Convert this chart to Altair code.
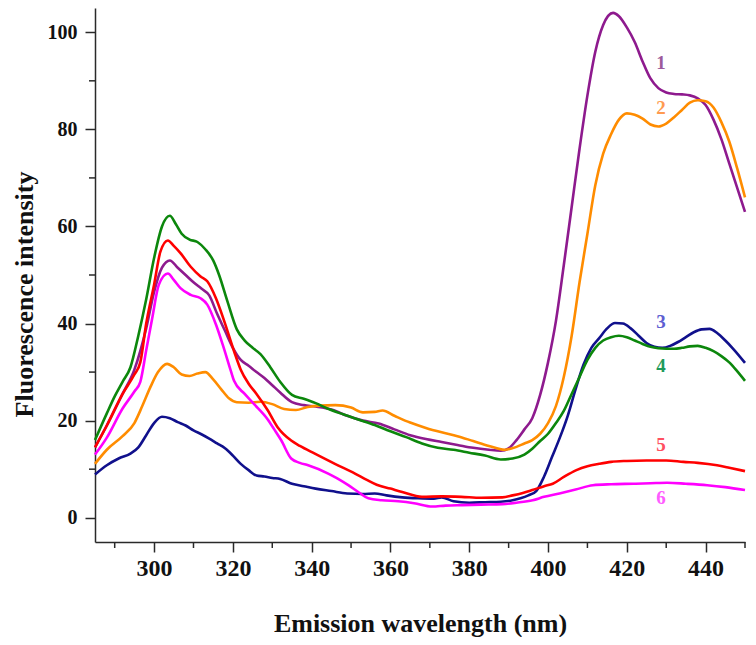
import altair as alt
import pandas as pd

# ---- data ----
x1 = [285, 288, 292, 295, 298, 300, 302, 304, 306, 308, 310, 312, 314, 316, 318, 320, 322, 324, 326, 328, 330, 332, 335, 338, 341, 345, 349, 353, 357, 361, 365, 369, 373, 377, 381, 385, 388, 390, 392, 394, 396, 398, 400, 402, 404, 406, 408, 410, 412, 414, 416.5, 418, 420, 422, 424, 426, 428, 430, 432, 434, 436, 438, 440, 442, 444, 446, 448, 450]
y1 = [14.5, 19, 25.5, 30.5, 39, 46.5, 51.5, 53, 51.5, 50, 48.5, 47.2, 45.8, 42, 38.5, 35, 32.5, 31.3, 30, 28.8, 27.3, 25.8, 23.8, 23.2, 22.9, 22.3, 21, 20, 19.4, 18.2, 17, 16.2, 15.6, 15, 14.4, 14, 13.8, 14.3, 16, 18.2, 20.5, 25.3, 32, 40.5, 52, 64, 76, 87, 96, 101.5, 104, 103.3, 101, 98, 94, 90.5, 88.5, 87.6, 87.3, 87.2, 87, 86.4, 85, 82, 78, 73, 68, 63]

x2 = [285, 288, 292, 295, 297, 299, 301, 303.3, 305, 307, 309, 311, 313, 315, 317, 319, 321, 324, 327, 330, 333, 336, 339, 342, 346, 350, 353, 356, 358, 361, 365, 369, 373, 377, 381, 385, 389, 392, 394, 396, 398, 400, 402, 404, 406, 408, 410, 412, 414, 416, 418, 420, 422, 424, 426, 428, 430, 432, 434, 436, 438, 440, 442, 444, 446, 448, 450]
y2 = [11.1, 14, 16.8, 19.5, 23, 26.8, 30, 31.7, 31, 29.5, 29.2, 29.7, 30, 28.5, 26.5, 24.6, 23.8, 23.7, 23.9, 23.4, 22.4, 22.2, 22.8, 23.1, 23.2, 22.7, 21.7, 21.8, 22.1, 21, 19.6, 18.5, 17.6, 16.8, 15.8, 14.8, 14, 14.6, 15.3, 16, 17.3, 19.5, 23, 29, 37.5, 48.5, 58.5, 68.5, 75, 79, 82, 83.3, 83, 82.2, 81, 80.6, 81.2, 82.5, 84, 85.5, 86, 85.8, 84.5, 81.5, 77.5, 72, 66]

x3 = [285, 288, 291, 294, 296, 298, 300, 302, 304, 306, 308, 310, 312, 314, 316, 318, 320, 322, 324, 326, 328, 330, 332, 335, 338, 341, 345, 349, 353, 356, 359, 363, 367, 371, 373, 376, 380, 384, 388, 391, 393, 395, 397, 399, 401, 403, 405, 407, 409, 411, 413, 415, 417, 419, 421, 423, 425, 427, 429, 431, 433, 435, 437, 439, 441, 443, 445, 447, 450]
y3 = [8.9, 10.8, 12.2, 13.2, 14.5, 17, 19.5, 20.8, 20.5, 19.7, 19, 18, 17.2, 16.3, 15.3, 14.3, 12.8, 11.1, 9.8, 8.7, 8.5, 8.2, 8, 7, 6.5, 6, 5.5, 5, 4.9, 5, 4.6, 4.2, 4, 3.9, 4.2, 3.4, 3.1, 3.2, 3.3, 3.6, 4, 4.6, 5.5, 8.5, 12.5, 16.5, 21, 26.5, 31.5, 35, 37, 39, 40.1, 40, 39, 37.5, 36, 35.2, 35, 35.4, 36.2, 37.2, 38.2, 38.8, 38.9, 38, 36.5, 34.8, 31.9]

x4 = [285, 288, 290, 292, 294, 296, 298, 300, 302, 304, 305.5, 307, 309, 311, 313, 315, 316.5, 318.6, 321, 323, 325, 327, 329.5, 332, 335, 338, 341, 344, 348, 352, 356, 360, 364, 368, 372, 376, 380, 384, 388, 391, 394, 396, 398, 400, 402, 404, 406, 408, 410, 412, 414, 416, 418, 420, 422, 424, 426, 428, 430, 432, 434, 436, 438, 440, 442, 444, 446, 448, 450]
y4 = [16, 21.5, 25, 28, 31, 37.5, 45, 53.5, 60, 62.2, 60.5, 58.5, 57.3, 56.8, 55.3, 53, 50, 44.6, 38.8, 36.5, 35, 33.7, 31, 28, 25.3, 24.5, 23.6, 22.5, 21.3, 20.2, 19.1, 17.8, 16.6, 15.3, 14.4, 14, 13.4, 12.8, 12, 12.2, 13, 14.2, 15.8, 17.3, 19.5, 22, 25.5, 29, 32.5, 35, 36.5, 37.2, 37.5, 37.2, 36.5, 35.8, 35.2, 34.9, 34.8, 34.8, 35, 35.3, 35.4, 35, 34.3, 33.3, 32, 30.2, 28.2]

x5 = [285, 288, 292, 295, 296.5, 298, 300, 301.6, 303.5, 305, 306.7, 309.3, 311.8, 313.5, 315.7, 317.8, 320.3, 322, 324, 326, 328.8, 331.4, 334.8, 337, 340.8, 345.9, 351, 354, 356.5, 360, 363, 368, 373, 378, 383, 388.4, 391, 393.6, 396, 399, 401.2, 404, 407.2, 410, 413, 416, 420, 425, 430, 434.4, 438, 442.9, 446, 450]
y5 = [14.5, 19, 25.5, 29.5, 32, 40, 48, 54.8, 57.1, 56, 54.5, 51.7, 49.7, 48.7, 45.2, 40.5, 34.3, 30.5, 27.6, 25.5, 22.2, 18.6, 15.9, 14.8, 13.2, 11.1, 9.1, 7.8, 6.8, 6, 5.3, 4.3, 4.4, 4.3, 4.1, 4.2, 4.6, 5.1, 5.7, 6.5, 7, 8.4, 9.8, 10.6, 11.1, 11.5, 11.7, 11.8, 11.8, 11.5, 11.3, 10.8, 10.3, 9.6]

x6 = [285, 288, 292, 295, 296.5, 298, 299.5, 301.2, 303.5, 305, 306.7, 309.3, 311.8, 313.5, 315.7, 317.4, 319.5, 320.3, 323, 325.4, 328.8, 330.5, 332.3, 334.8, 337, 339.1, 344.2, 346.5, 349.3, 352, 354.4, 357.8, 362, 366, 370.6, 374, 378.2, 383, 388.4, 392, 396.1, 399, 402.9, 407, 411.4, 416, 421.7, 426, 430.2, 435, 440.4, 445, 450]
y6 = [13, 16.5, 22.5, 26, 28, 34.5, 41, 48, 50.3, 49, 47.3, 45.9, 45.2, 43.9, 39.8, 35.7, 30.2, 28.2, 25.5, 23.4, 20.3, 18.2, 15.9, 12.2, 11.3, 10.8, 9.1, 8.1, 6.7, 5.2, 4, 3.6, 3.4, 3, 2.3, 2.5, 2.6, 2.7, 2.8, 3.1, 3.6, 4.3, 5, 5.8, 6.7, 6.9, 7, 7.1, 7.2, 7, 6.7, 6.3, 5.7]

series_names = ["1", "2", "3", "4", "5", "6"]
line_colors = ["#8E1A8E", "#FF8C00", "#10108C", "#0C870C", "#FF0000", "#FF00FF"]

label_text = ["1", "2", "3", "4", "5", "6"]
label_x = [428.7, 428.7, 428.7, 428.7, 428.7, 428.7]
label_y = [93.7, 84.5, 40.3, 31.3, 14.9, 4.0]
label_colors = ["#9C5A9C", "#FF9A50", "#5E5ED2", "#1E9A5A", "#FF5060", "#FF5CFF"]

x_major = [300, 320, 340, 360, 380, 400, 420, 440]
x_minor = [290, 310, 330, 350, 370, 390, 410, 430, 450]
y_major = [0, 20, 40, 60, 80, 100]
y_minor = [10, 30, 50, 70, 90]

X_DOMAIN = [285, 450]
Y_DOMAIN = [-5, 105]
W, H = 650, 534
FONT = "Liberation Serif"
AXC = "#2a2a2a"

# ---- build tables ----
xs = [x1, x2, x3, x4, x5, x6]
ys = [y1, y2, y3, y4, y5, y6]
rows = []
for name, xv, yv in zip(series_names, xs, ys):
    for a, b in zip(xv, yv):
        rows.append({"series": name, "wl": a, "val": b})
df = pd.DataFrame(rows)
labels_df = pd.DataFrame({"t": label_text, "wl": label_x, "val": label_y, "c": label_colors})
xminor_df = pd.DataFrame({"wl": x_minor})
yminor_df = pd.DataFrame({"val": y_minor})

xscale = alt.Scale(domain=X_DOMAIN, nice=False, zero=False)
yscale = alt.Scale(domain=Y_DOMAIN, nice=False, zero=False)

x_axis = alt.Axis(
    values=x_major, title="Emission wavelength (nm)", grid=False,
    tickSize=10, tickWidth=1.5, tickColor=AXC, domainColor=AXC, domainWidth=1.5,
    labelFont=FONT, labelFontWeight="bold", labelFontSize=24, labelColor="#111",
    labelPadding=4, titleFont=FONT, titleFontWeight="bold", titleFontSize=26,
    titleColor="#111", titleBaseline="alphabetic", titleY=89, titleX=W / 2)
y_axis = alt.Axis(
    values=y_major, title="Fluorescence intensity", grid=False,
    tickSize=10, tickWidth=1.5, tickColor=AXC, domainColor=AXC, domainWidth=1.5,
    labelFont=FONT, labelFontWeight="bold", labelFontSize=20, labelColor="#111",
    labelPadding=8, titleFont=FONT, titleFontWeight="bold", titleFontSize=26,
    titleColor="#111", titleBaseline="alphabetic", titleX=-63, titleY=286,
    titleAngle=270)

X = alt.X("wl:Q", scale=xscale, axis=x_axis)
Y = alt.Y("val:Q", scale=yscale, axis=y_axis)

lines = alt.Chart(df).mark_line(strokeWidth=2.6, interpolate="monotone").encode(
    x=X, y=Y,
    color=alt.Color("series:N", scale=alt.Scale(domain=series_names, range=line_colors), legend=None),
    order=alt.Order("wl:Q"),
)

texts = alt.Chart(labels_df).mark_text(font=FONT, fontWeight="bold", fontSize=19,
                                       baseline="middle", align="center").encode(
    x=X, y=Y,
    text="t:N",
    color=alt.Color("c:N", scale=None),
)

xminor = alt.Chart(xminor_df).mark_rule(color=AXC, strokeWidth=1.5).encode(
    x=X,
    y=alt.value(H), y2=alt.value(H + 6),
)
yminor = alt.Chart(yminor_df).mark_rule(color=AXC, strokeWidth=1.5).encode(
    y=Y,
    x=alt.value(0), x2=alt.value(-6),
)

chart = alt.layer(lines, xminor, yminor, texts).properties(
    width=W, height=H,
    autosize=alt.AutoSizeParams(type="none"),
    padding={"left": 87, "top": 0, "right": 3, "bottom": 95},
).configure_view(stroke=None)

chart.save("out.html", embed_options={"renderer": "svg", "actions": False})
